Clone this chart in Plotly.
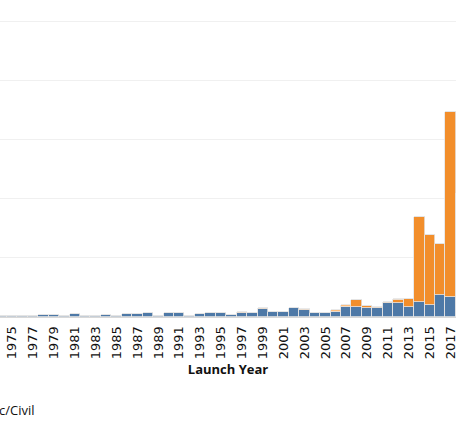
import plotly.graph_objects as go

years = list(range(1974, 2019))
blue = [1, 1, 1, 1, 3, 3, 1, 5, 1, 1, 3, 1, 5, 5, 7, 1, 6, 6, 1, 5, 7, 7, 4,
        6, 6, 13, 9, 8, 15, 11, 6, 6, 9, 17, 17, 15, 15, 24, 24, 17, 26, 21, 37, 33, 30]
orange = [0]*34 + [11, 3, 0, 0, 5, 14, 143, 118, 87, 314, 179]
peach = [0]*23 + [3, 0, 3, 0, 0, 0, 3, 0, 0, 3, 3, 0, 1, 2, 2, 1, 0, 0, 0, 0, 0, 0]
tick_years = list(range(1975, 2018, 2))

edge = dict(color="#e4e4e4", width=0.8)

fig = go.Figure()
fig.add_trace(go.Bar(x=years, y=blue, marker=dict(color="#4e79a7", line=edge), name="Blue"))
fig.add_trace(go.Bar(x=years, y=orange, marker=dict(color="#f28e2b", line=edge), name="Orange"))
fig.add_trace(go.Bar(x=years, y=peach, marker=dict(color="#ffbe7d", line=edge), name="Peach"))

plot_h = 426 - 109
fig.update_layout(
    width=456, height=426,
    margin=dict(l=0, r=0, t=0, b=109, autoexpand=False),
    barmode="stack", bargap=0,
    plot_bgcolor="white", paper_bgcolor="white",
    showlegend=False,
    font=dict(family="Open Sans", color="#222"),
    xaxis=dict(
        range=[1973.84, 2017.51], automargin=False,
        tickvals=tick_years, ticktext=[str(y) for y in tick_years],
        tickangle=-90, tickfont=dict(family="DejaVu Sans", size=13, color="#111"),
        ticklabeloverflow="allow",
        showgrid=False, zeroline=False, showline=False,
        ticks="outside", ticklen=3, tickcolor="rgba(0,0,0,0)",
        title=dict(text="<b>Launch Year</b>", font=dict(size=13, color="#111"), standoff=6),
    ),
    yaxis=dict(
        range=[0, 535.5], dtick=100, showticklabels=False, automargin=False,
        showgrid=True, gridcolor="#f0f0f0", gridwidth=1,
        zeroline=True, zerolinecolor="#d8d8d8", zerolinewidth=1,
    ),
    annotations=[dict(
        text="c/Civil", x=0, y=(317 - 410) / plot_h, xref="paper", yref="paper",
        showarrow=False, xanchor="left", yanchor="middle", xshift=-3,
        font=dict(size=13, color="#111"),
    )],
)
fig.write_html(
    "out.html",
    config={"displayModeBar": False},
    post_script="document.body.style.margin='0';document.body.style.overflow='hidden';",
)
